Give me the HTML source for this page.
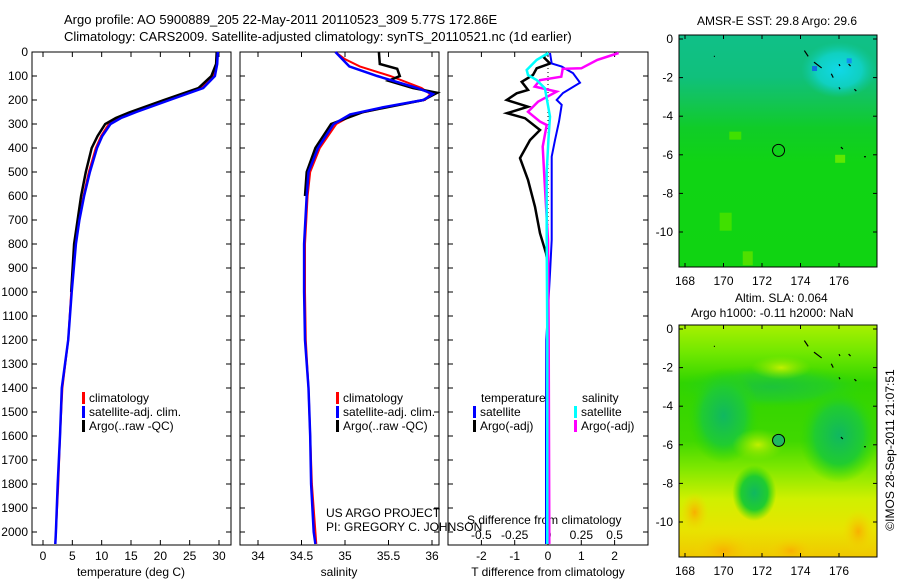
<!DOCTYPE html>
<html><head><meta charset="utf-8"><style>
body{margin:0;background:#fff}
svg{display:block;font-family:"Liberation Sans",sans-serif}
</style></head><body>
<svg id="fig" width="900" height="580" viewBox="0 0 900 580">
<defs>
<linearGradient id="sstg" x1="0" y1="0" x2="0" y2="1">
<stop offset="0" stop-color="#10c088"/><stop offset="0.18" stop-color="#10c07c"/><stop offset="0.28" stop-color="#12c458"/><stop offset="0.4" stop-color="#10cc28"/><stop offset="0.55" stop-color="#10d414"/><stop offset="1" stop-color="#10d412"/></linearGradient>
<radialGradient id="cyanblob" cx="0.5" cy="0.5" r="0.5"><stop offset="0" stop-color="#10d8e8"/><stop offset="0.6" stop-color="#10d0c0"/><stop offset="1" stop-color="#10c8a0" stop-opacity="0"/></radialGradient>
<linearGradient id="slag" x1="0" y1="0" x2="0" y2="1">
<stop offset="0" stop-color="#a8f000"/><stop offset="0.12" stop-color="#70e800"/><stop offset="0.25" stop-color="#30d400"/><stop offset="0.5" stop-color="#40d800"/><stop offset="0.62" stop-color="#80e800"/><stop offset="0.75" stop-color="#d0f000"/><stop offset="0.88" stop-color="#e8e400"/><stop offset="1" stop-color="#f0c800"/></linearGradient>
<radialGradient id="dg" cx="0.5" cy="0.5" r="0.5"><stop offset="0" stop-color="#10b860"/><stop offset="0.6" stop-color="#20cc30"/><stop offset="1" stop-color="#30d800" stop-opacity="0"/></radialGradient>
<radialGradient id="yg" cx="0.5" cy="0.5" r="0.5"><stop offset="0" stop-color="#c0f000"/><stop offset="1" stop-color="#90e800" stop-opacity="0"/></radialGradient>
<radialGradient id="og" cx="0.5" cy="0.5" r="0.5"><stop offset="0" stop-color="#f8b000"/><stop offset="1" stop-color="#f0d800" stop-opacity="0"/></radialGradient>
<clipPath id="c1"><rect x="679" y="35" width="198" height="232"/></clipPath>
<clipPath id="c2"><rect x="679" y="325" width="198" height="232"/></clipPath>
</defs>
<text x="64" y="24" font-size="13">Argo profile: AO 5900889_205 22-May-2011 20110523_309 5.77S 172.86E</text>
<text x="64" y="41" font-size="13">Climatology: CARS2009. Satellite-adjusted climatology: synTS_20110521.nc (1d earlier)</text>
<g id="g"></g>
<text x="777" y="25" font-size="12" text-anchor="middle">AMSR-E SST: 29.8 Argo: 29.6</text>
<text x="735" y="302" font-size="12">Altim. SLA: 0.064</text>
<text x="691" y="317" font-size="12">Argo h1000: -0.11 h2000: NaN</text>
<text transform="translate(894,450) rotate(-90)" font-size="12" text-anchor="middle">©IMOS 28-Sep-2011 21:07:51</text>
</svg>
<script>
// ---- data ----
const depthT = [0,50,100,150,200,250,275,300,350,400,500,600,700,800,1000,1200,1400,1600,1800,2000,2050];
const tempClim = [29.6,29.5,29.0,26.9,21.3,15.6,13.0,11.2,9.9,9.0,7.8,6.9,6.1,5.5,4.8,4.3,3.3,2.9,2.6,2.2,2.1];
const tempSat  = [29.8,29.7,29.3,27.3,21.6,15.9,13.3,11.5,10.1,9.2,8.0,7.0,6.2,5.6,4.9,4.3,3.2,2.9,2.5,2.2,2.1];
const depthTArgo = [0,50,100,150,200,250,275,300,350,400,500,600,700,800,1000];
const tempArgo = [29.6,29.5,28.7,26.5,20.6,14.9,12.4,10.6,9.3,8.3,7.3,6.5,5.9,5.3,4.8];
const depthS = [0,30,60,100,150,175,200,230,260,300,400,500,600,800,1000,1200,1400,1600,1800,2000,2050];
const salClim = [34.89,35.0,35.17,35.52,35.88,35.98,35.92,35.48,35.1,34.9,34.71,34.6,34.57,34.54,34.54,34.55,34.58,34.6,34.62,34.66,34.67];
const salSat  = [34.89,34.97,35.05,35.37,35.83,36.01,35.9,35.44,35.06,34.87,34.69,34.58,34.56,34.53,34.53,34.54,34.58,34.6,34.61,34.64,34.66];
const depthSArgo = [0,50,70,100,120,150,170,200,250,300,400,500,600];
const salArgo = [35.39,35.4,35.6,35.63,35.5,35.78,36.06,35.9,35.21,34.84,34.66,34.56,34.54];
const dDepthT = [4,20,48,68,96,124,158,172,200,228,255,276,325,367,442,533,645,755,838,870];
const dTArgo = [0,-0.14,0.06,-0.34,-0.45,-0.79,-0.6,-0.94,-1.24,-0.6,-1.23,-0.69,-0.24,-0.54,-0.84,-0.6,-0.39,-0.24,-0.06,-0.02];
const dDepthSat = [4,48,61,88,128,171,200,220,290,367,436,783,922,1200,1600,2050];
const dTSat = [0.06,0.11,0.41,0.75,0.96,0.45,0.26,0.41,0.33,0.21,0.11,0.11,0.06,-0.05,-0.06,-0.06];
const dDepthSS = [4,33,75,96,117,151,193,269,367,500,800,1200,2050];
const dSSat = [0.003,-0.085,-0.16,-0.15,-0.085,-0.023,-0.01,0.015,0.003,-0.01,-0.01,-0.005,-0.005];
const dDepthSA = [4,33,68,70,103,117,144,165,207,249,290,304,394,547,783,1200,2050];
const dSArgo = [0.53,0.37,0.25,0.11,0.1,-0.06,-0.1,0.065,-0.075,-0.15,-0.06,-0.01,-0.04,-0.025,0,0.005,0.01];
const depthTicks = [0,100,200,300,400,500,600,700,800,900,1000,1100,1200,1300,1400,1500,1600,1700,1800,1900,2000];
const tTicks = [0,5,10,15,20,25,30];
const sTicks = [34,34.5,35,35.5,36];
const dTTicks = [-2,-1,0,1,2];
const dSTicks = [-0.5,-0.25,0,0.25,0.5];
const dSTickLabels = ['-0.5','-0.25','0','0.25','0.5'];
const argoLon = 172.86, argoLat = -5.77;
const lonTicks = [168,170,172,174,176];
const latTicks = [0,-2,-4,-6,-8,-10];

// ---- axes ----
const yTop=52, yBot=545;
const yD = d => yTop + d*0.24;
const xT = v => 43 + v*5.867;
const xS = s => 258 + (s-34)*87;
const xDT = v => 548 + v*33.3;
const xDS = s => 548 + s*133.3;
const mx = lon => 685 + (lon-168)*19.25;
const my1 = lat => 39 - lat*19.3;
const my2 = lat => 329 - lat*19.3;

const NS='http://www.w3.org/2000/svg';
const G=document.getElementById('g');
function mk(tag,attrs,parent){const e=document.createElementNS(NS,tag);for(const k in attrs)e.setAttribute(k,attrs[k]);(parent||G).appendChild(e);return e;}
function txt(x,y,s,anchor,parent){const e=mk('text',{x:x,y:y,'font-size':12,'text-anchor':anchor||'start'},parent);e.textContent=s;return e;}
function line(xs,ds,fx,color,w,name){
  const p=xs.map((v,i)=>fx(v).toFixed(1)+','+yD(ds[i]).toFixed(1)).join(' ');
  const e=mk('polyline',{points:p,fill:'none',stroke:color,'stroke-width':w,'stroke-linejoin':'miter'});
  
  
  return e;
}
function frame(x0,x1,name){
  const r=mk('rect',{x:x0,y:yTop,width:x1-x0,height:yBot-yTop,fill:'none',stroke:'#000','stroke-width':1});
  
  
  depthTicks.forEach(d=>{mk('line',{x1:x0,x2:x0+5,y1:yD(d),y2:yD(d),stroke:'#000'});mk('line',{x1:x1,x2:x1-5,y1:yD(d),y2:yD(d),stroke:'#000'});});
}
function xticks(vals,fx,labels){
  vals.forEach((v,i)=>{const x=fx(v);mk('line',{x1:x,x2:x,y1:yBot,y2:yBot-5,stroke:'#000'});mk('line',{x1:x,x2:x,y1:yTop,y2:yTop+5,stroke:'#000'});
    const e=txt(x,560,labels[i],'middle');
    
    });
}
let lbl;
// panel 1
frame(32,231,'temperature-panel');
depthTicks.forEach(d=>{const e=txt(28,yD(d)+4,String(d),'end');
  
  });
xticks(tTicks,xT,tTicks.map(String));
line(tempClim,depthT,xT,'#f00',2,'temp-climatology-line');
line(tempArgo,depthTArgo,xT,'#000',2.5,'temp-argo-line');
line(tempSat,depthT,xT,'#00f',2.5,'temp-satellite-line');
lbl=txt(131,576,'temperature (deg C)','middle');
// panel 2
frame(240,439,'salinity-panel');
xticks(sTicks,xS,['34','34.5','35','35.5','36']);
line(salClim,depthS,xS,'#f00',2,'sal-climatology-line');
line(salArgo,depthSArgo,xS,'#000',2.5,'sal-argo-line');
line(salSat,depthS,xS,'#00f',2.5,'sal-satellite-line');
lbl=txt(339,576,'salinity','middle');
// legends
function leg(x,y,color,label,name){
  const r=mk('rect',{x:x,y:y-10,width:3,height:12,fill:color});
  
  
  const e=txt(x+7,y,label);
  
  
}
[[82,'#f00','climatology'],[82,'#00f','satellite-adj. clim.'],[82,'#000','Argo(..raw -QC)']].forEach((a,i)=>leg(a[0],402+i*14,a[1],a[2],'legend-entry-t'));
[[336,'#f00','climatology'],[336,'#00f','satellite-adj. clim.'],[336,'#000','Argo(..raw -QC)']].forEach((a,i)=>leg(a[0],402+i*14,a[1],a[2],'legend-entry-s'));
lbl=txt(326,517,'US ARGO PROJECT');
lbl=txt(326,531,'PI: GREGORY C. JOHNSON');
// panel 3
frame(448,648,'difference-panel');
xticks(dTTicks,xDT,dTTicks.map(String));
dSTicks.forEach((v,i)=>{const e=txt(xDS(v),539,dSTickLabels[i],'middle');
  
  });
lbl=txt(467,524,'S difference from climatology');
lbl=txt(548,576,'T difference from climatology','middle');
mk('line',{x1:xDT(0),x2:xDT(0),y1:yTop,y2:yBot,stroke:'#000','stroke-dasharray':'1,3'});
line(dTArgo,dDepthT,xDT,'#000',2.5,'t-diff-argo-line');
line(dTSat,dDepthSat,xDT,'#00f',2,'t-diff-satellite-line');
line(dSArgo,dDepthSA,xDS,'#f0f',2.5,'s-diff-argo-line');
line(dSSat,dDepthSS,xDS,'#0ff',2.5,'s-diff-satellite-line');
lbl=txt(481,402,'temperature');
lbl=txt(582,402,'salinity');
leg(473,416,'#00f','satellite','legend-entry-t-sat');
leg(473,430,'#000','Argo(-adj)','legend-entry-t-argo');
leg(574,416,'#0ff','satellite','legend-entry-s-sat');
leg(574,430,'#f0f','Argo(-adj)','legend-entry-s-argo');

// maps
function mapAxes(y0,my,name){
  const r=mk('rect',{x:679,y:y0,width:198,height:232,fill:'none',stroke:'#000'});
  
  
  lonTicks.forEach(l=>{const x=mx(l);mk('line',{x1:x,x2:x,y1:y0,y2:y0+4,stroke:'#000'});mk('line',{x1:x,x2:x,y1:y0+232,y2:y0+228,stroke:'#000'});
    const e=txt(x,y0+250,String(l),'middle');});
  latTicks.forEach(l=>{const y=my(l);mk('line',{x1:679,x2:683,y1:y,y2:y,stroke:'#000'});mk('line',{x1:877,x2:873,y1:y,y2:y,stroke:'#000'});
    const e=txt(673,y+4,String(l),'end');});
}
function islands(parent,my){
  [[174.2,-0.6,174.4,-0.9],[174.7,-1.2,175.1,-1.5],[175.6,-1.8,175.7,-2.0],[176,-1.3,176.05,-1.4],[176.5,-1.3,176.6,-1.4],[176,-2.5,176.05,-2.6],[176.8,-2.6,176.9,-2.7],[176.1,-5.6,176.2,-5.7],[177.3,-6.1,177.4,-6.1],[169.5,-0.9,169.55,-0.9]].forEach(s=>{
    mk('line',{x1:mx(s[0]),y1:my(s[1]),x2:mx(s[2]),y2:my(s[3]),stroke:'#000','stroke-width':1.2},parent);});
}
const m1=mk('g',{'clip-path':'url(#c1)'});


mk('rect',{x:679,y:35,width:198,height:232,fill:'url(#sstg)'},m1);
mk('ellipse',{cx:mx(176),cy:my1(-1.6),rx:38,ry:28,fill:'url(#cyanblob)'},m1);
mk('rect',{x:mx(176.4),y:my1(-1),width:5,height:5,fill:'#1090f0'},m1);
mk('rect',{x:mx(174.6),y:my1(-1.4),width:5,height:5,fill:'#1070e0'},m1);
mk('rect',{x:mx(170.3),y:my1(-4.8),width:12,height:8,fill:'#40e000'},m1);
mk('rect',{x:mx(169.8),y:my1(-9),width:12,height:18,fill:'#40e000'},m1);
mk('rect',{x:mx(171),y:my1(-11),width:10,height:14,fill:'#50e000'},m1);
mk('rect',{x:mx(175.8),y:my1(-6),width:10,height:8,fill:'#60e800'},m1);
islands(m1,my1);
mapAxes(35,my1,'sst-map-frame');
mk('circle',{cx:mx(argoLon),cy:my1(argoLat),r:6,fill:'none',stroke:'#000'});

const m2=mk('g',{'clip-path':'url(#c2)'});


mk('rect',{x:679,y:325,width:198,height:232,fill:'url(#slag)'},m2);
mk('ellipse',{cx:mx(172.5),cy:my2(-3),rx:100,ry:22,fill:'url(#dg)',opacity:0.6},m2);
mk('ellipse',{cx:mx(170),cy:my2(-4.5),rx:36,ry:48,fill:'url(#dg)'},m2);
mk('ellipse',{cx:mx(176),cy:my2(-5.5),rx:40,ry:48,fill:'url(#dg)'},m2);
mk('ellipse',{cx:mx(171.6),cy:my2(-8.5),rx:22,ry:28,fill:'url(#dg)'},m2);
mk('ellipse',{cx:mx(171.8),cy:my2(-6),rx:26,ry:16,fill:'url(#yg)'},m2);
mk('ellipse',{cx:mx(173),cy:my2(-2),rx:30,ry:12,fill:'url(#yg)'},m2);
mk('ellipse',{cx:mx(170),cy:my2(-11.5),rx:30,ry:18,fill:'url(#og)'},m2);
mk('ellipse',{cx:mx(173.5),cy:my2(-11.5),rx:24,ry:14,fill:'url(#og)'},m2);
mk('ellipse',{cx:mx(177),cy:my2(-10.5),rx:16,ry:22,fill:'url(#og)'},m2);
mk('ellipse',{cx:mx(168.5),cy:my2(-9.5),rx:14,ry:20,fill:'url(#og)'},m2);
islands(m2,my2);
mapAxes(325,my2,'sla-map-frame');
mk('circle',{cx:mx(argoLon),cy:my2(argoLat),r:6,fill:'#20b860',stroke:'#000'});
</script>
</body></html>
